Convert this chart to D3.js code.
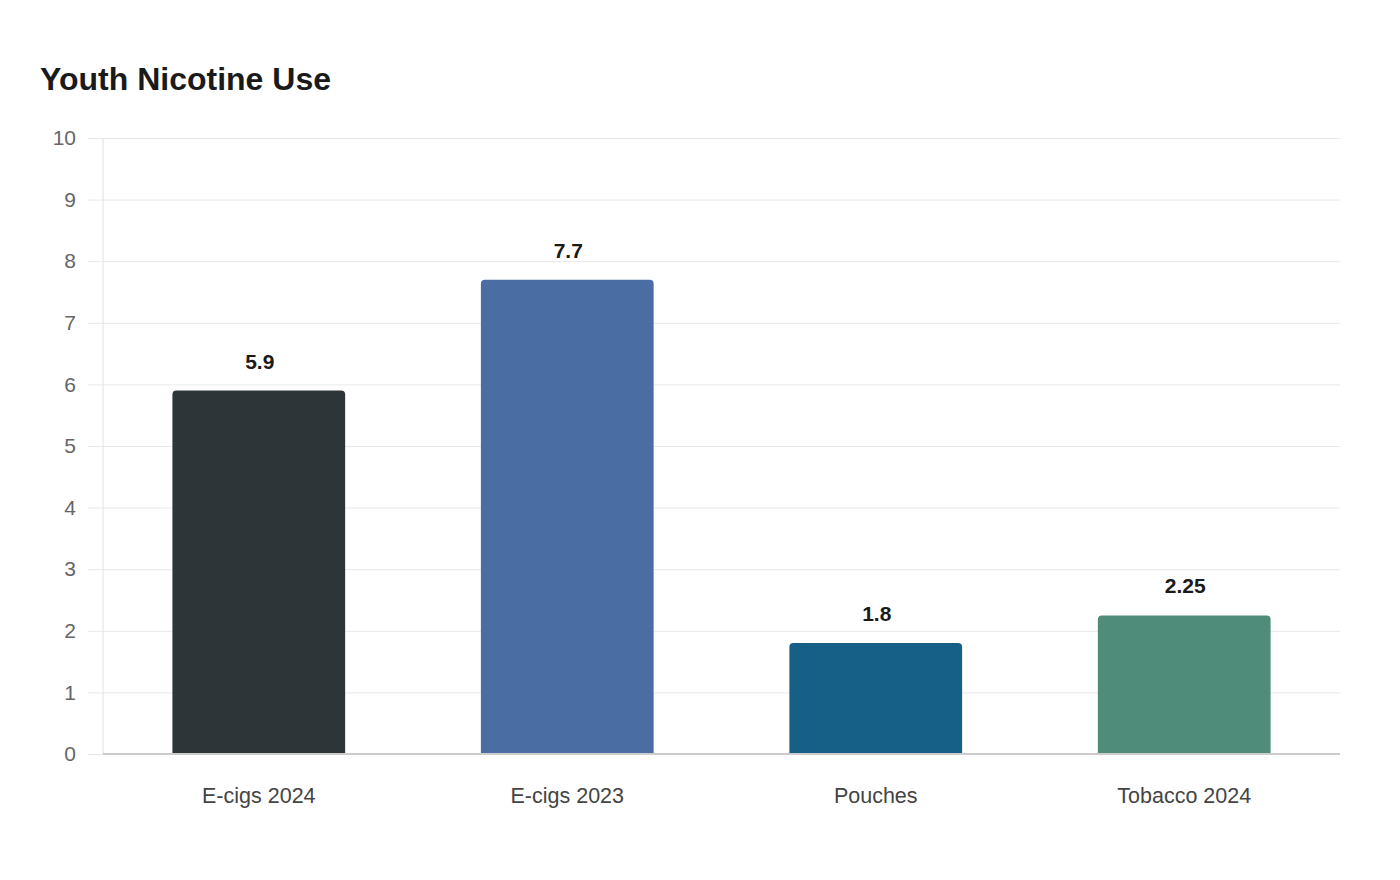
<!DOCTYPE html>
<meta charset="utf-8">
<head>
  <script src="https://d3js.org/d3.v7.min.js"></script>
  <style>
    body { margin: 0; background: #fff; font-family: "Liberation Sans", Arial, sans-serif; }
  </style>
</head>
<body>
  <svg id="root"></svg>
  <script>
    const categories = ["E-cigs 2024", "E-cigs 2023", "Pouches", "Tobacco 2024"];
    const values = [5.9, 7.7, 1.8, 2.25];
    const barColors = ["#2d3538", "#4a6ea4", "#166087", "#4f8c7a"];
    const yTicks = [0, 1, 2, 3, 4, 5, 6, 7, 8, 9, 10];

    const W = 1400, H = 880;
    const margin = { top: 138, right: 60, bottom: 126, left: 103 },
      width = W - margin.left - margin.right,
      height = H - margin.top - margin.bottom;

    const root = d3.select("#root").attr("width", W).attr("height", H);

    root.append("text")
      .attr("x", 40)
      .attr("y", 90)
      .attr("font-size", 32)
      .attr("font-weight", "bold")
      .attr("fill", "#1a1a1a")
      .text("Youth Nicotine Use");

    const svg = root.append("g")
      .attr("transform", `translate(${margin.left},${margin.top})`);

    const x = d3.scaleBand(categories, [0, width]).paddingInner(0.44).paddingOuter(0.225);
    const y = d3.scaleLinear([0, 10], [height, 0]);

    // grid lines + y labels
    const yAxis = d3.axisLeft(y).tickValues(yTicks).tickSize(-width - 15).tickPadding(12);
    const yg = svg.append("g").call(yAxis);
    yg.select(".domain").remove();
    yg.selectAll(".tick line").attr("stroke", "#e8e8e8").attr("x1", -15).attr("x2", width);
    yg.selectAll(".tick text")
      .attr("x", -27)
      .attr("font-size", 21)
      .attr("font-family", "Liberation Sans, Arial, sans-serif")
      .attr("fill", "#666");

    // left axis line
    svg.append("line")
      .attr("x1", 0).attr("x2", 0)
      .attr("y1", 0).attr("y2", height)
      .attr("stroke", "#e0e0e0");

    // bars with rounded tops
    const r = 4;
    svg.selectAll(".bar")
      .data(values)
      .join("path")
      .attr("class", "bar")
      .attr("fill", (d, i) => barColors[i])
      .attr("d", (d, i) => {
        const x0 = x(categories[i]), w = x.bandwidth();
        const y0 = y(d), y1 = y(0);
        return `M${x0},${y1}V${y0 + r}Q${x0},${y0} ${x0 + r},${y0}H${x0 + w - r}Q${x0 + w},${y0} ${x0 + w},${y0 + r}V${y1}Z`;
      });

    // value labels
    svg.selectAll(".val")
      .data(values)
      .join("text")
      .attr("class", "val")
      .attr("x", (d, i) => x(categories[i]) + x.bandwidth() / 2 + 1)
      .attr("y", d => y(d) - 22)
      .attr("text-anchor", "middle")
      .attr("font-size", 21)
      .attr("font-weight", "bold")
      .attr("fill", "#1a1a1a")
      .text(d => d);

    // baseline
    svg.append("line")
      .attr("x1", 0).attr("x2", width)
      .attr("y1", height).attr("y2", height)
      .attr("stroke", "#cccccc")
      .attr("stroke-width", 2);

    // x labels
    const xAxis = d3.axisBottom(x).tickSize(0).tickPadding(34);
    const xg = svg.append("g")
      .attr("transform", `translate(0,${height})`)
      .call(xAxis);
    xg.select(".domain").remove();
    xg.selectAll(".tick text")
      .attr("font-size", 21.5)
      .attr("font-family", "Liberation Sans, Arial, sans-serif")
      .attr("fill", "#444");
  </script>
</body>
